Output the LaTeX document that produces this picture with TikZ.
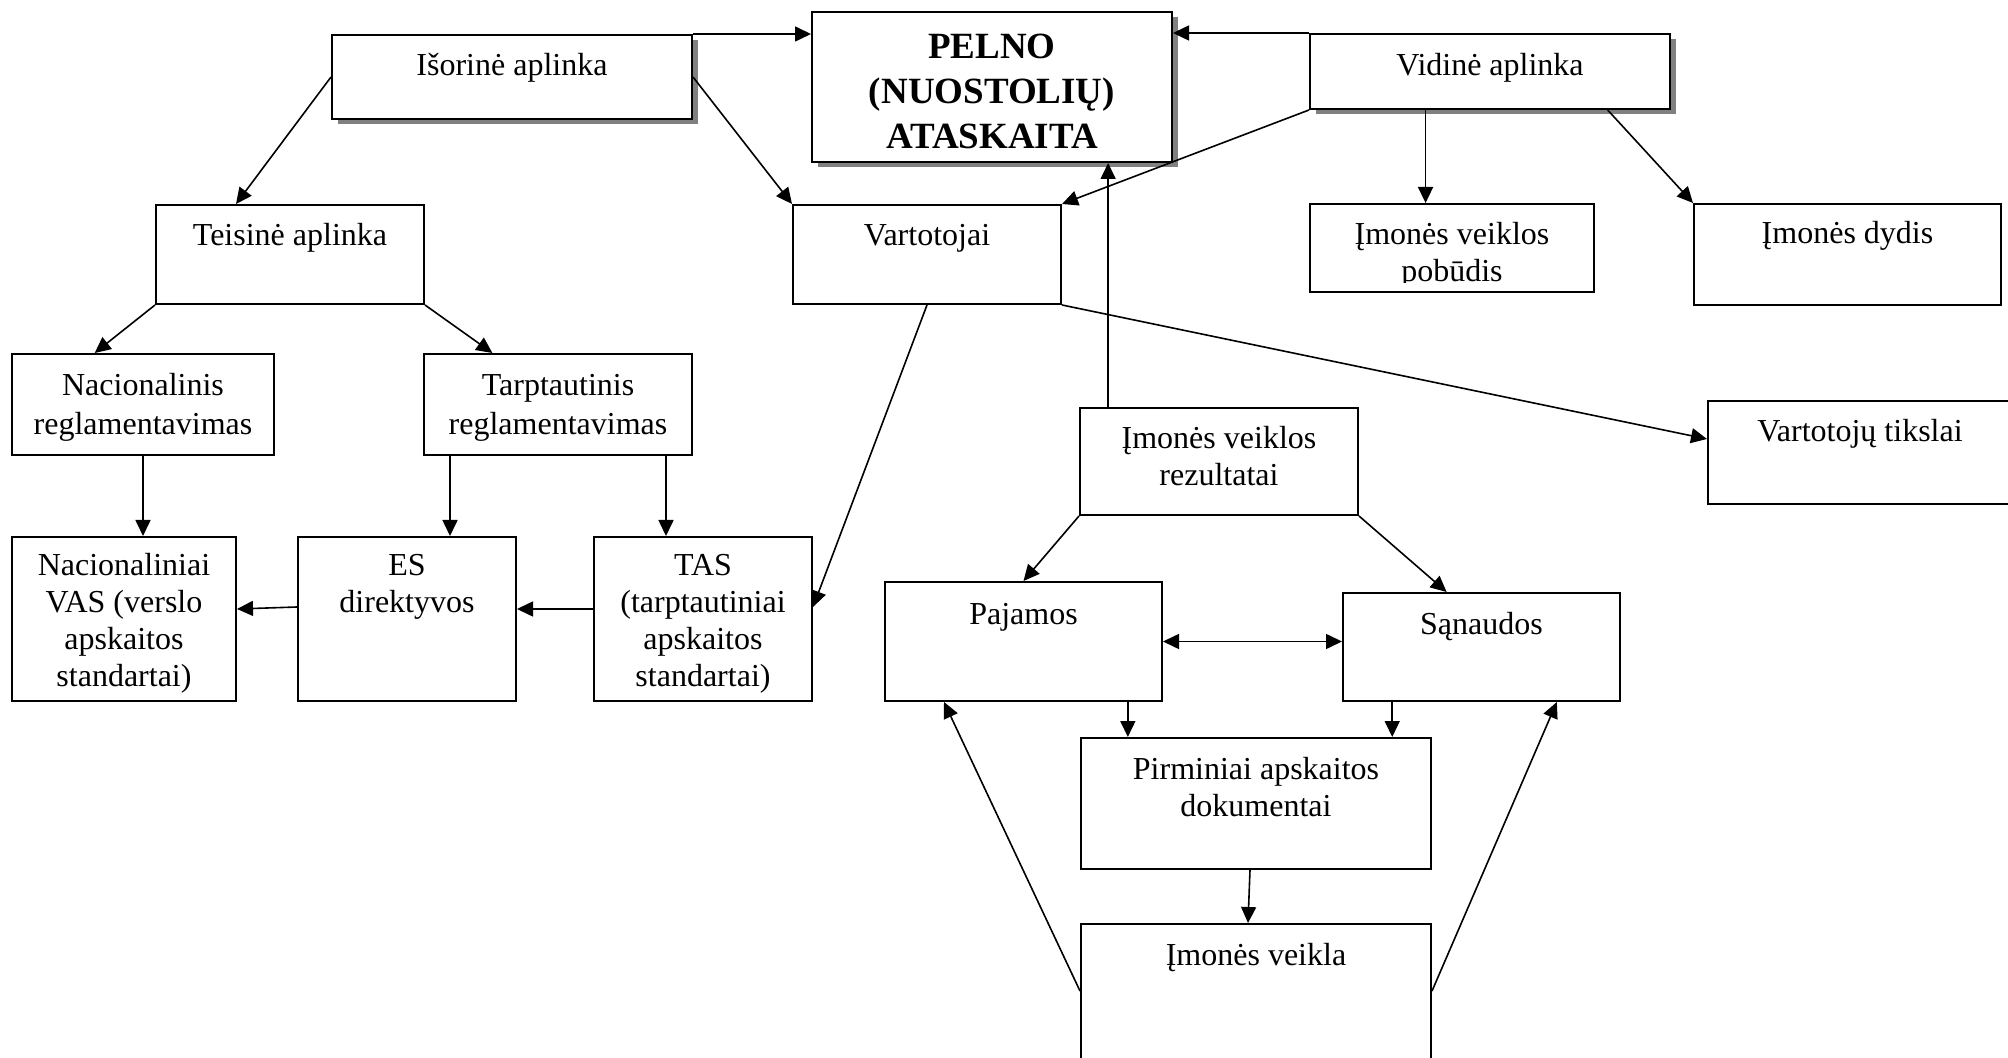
\documentclass[tikz,border=0pt]{standalone}
\usepackage{fontspec}
\setmainfont{Liberation Serif}
\usetikzlibrary{arrows.meta,calc,shadows}
\begin{document}
\begin{tikzpicture}[x=0.5pt,y=-0.5pt,
  >={Triangle[length=8pt,width=7.5pt]},
  box/.style={draw, line width=1pt, rectangle, inner sep=0pt, fill=white},
  shbox/.style={box, drop shadow={shadow xshift=3pt, shadow yshift=-2.5pt, fill=black!50, opacity=1}},
  txt/.style={anchor=north, inner sep=0pt, align=center, font=\fontsize{16}{18.5}\selectfont},
  conn/.style={line width=0.8pt, ->},
  dconn/.style={line width=0.8pt, <->},
]
\useasboundingbox (0,0) rectangle (2008,1058);

% boxes
\node[shbox, minimum width=180pt, minimum height=42pt] (isor) at (512,77) {};
\node[shbox, minimum width=180pt, minimum height=75pt] (pelno) at (992,87) {};
\node[shbox, minimum width=180pt, minimum height=37.5pt] (vid) at (1490,71.5) {};
\node[box, minimum width=134pt, minimum height=49.5pt] (teis) at (290,254.5) {};
\node[box, minimum width=134pt, minimum height=49.5pt] (vart) at (927,254.5) {};
\node[box, minimum width=142pt, minimum height=44pt] (pob) at (1452,248) {};
\node[box, minimum width=153.5pt, minimum height=50.5pt] (dyd) at (1847.5,254.5) {};
\node[box, minimum width=131pt, minimum height=50.5pt] (nreg) at (143,404.5) {};
\node[box, minimum width=134pt, minimum height=50.5pt] (treg) at (558,404.5) {};
\node[box, minimum width=112pt, minimum height=82pt] (nvas) at (124,619) {};
\node[box, minimum width=109pt, minimum height=82pt] (es) at (407,619) {};
\node[box, minimum width=109pt, minimum height=82pt] (tas) at (703,619) {};
\node[box, minimum width=139pt, minimum height=53.5pt] (rez) at (1219,461.5) {};
\node[box, minimum width=152pt, minimum height=51.5pt] (tik) at (1860,452.5) {};
\node[box, minimum width=138.5pt, minimum height=59.5pt] (paj) at (1023.5,641.5) {};
\node[box, minimum width=138.5pt, minimum height=54pt] (san) at (1481.5,647) {};
\node[box, minimum width=175pt, minimum height=65.5pt] (pirm) at (1256,803.5) {};
\node[box, minimum width=175pt, minimum height=73pt] (veik) at (1256,997) {};

% texts
\node[txt] (isor-t) at ([yshift=-7.8pt]isor.north) {\strut Išorinė aplinka};
\node[txt, font=\fontsize{18.5}{22.5}\selectfont\bfseries] (pelno-t) at ([yshift=-7.6pt]pelno.north) {\strut PELNO\\(NUOSTOLIŲ)\\ATASKAITA};
\node[txt] (vid-t) at ([yshift=-8pt]vid.north) {\strut Vidinė aplinka};
\node[txt] (teis-t) at ([yshift=-7.5pt]teis.north) {\strut Teisinė aplinka};
\node[txt] (vart-t) at ([yshift=-7.5pt]vart.north) {\strut Vartotojai};
\begin{scope}
  \clip (pob.north west) rectangle ([yshift=5.35pt]pob.south east);
  \node[txt] (pob-t) at ([yshift=-7.5pt]pob.north) {\strut Įmonės veiklos\\[0.3pt]pobūdis};
\end{scope}
\node[txt] (dyd-t) at ([yshift=-7.2pt]dyd.north) {\strut Įmonės dydis};
\node[txt] (nreg-t) at ([yshift=-8pt]nreg.north) {\strut Nacionalinis\\[1pt]reglamentavimas};
\node[txt] (treg-t) at ([yshift=-8pt]treg.north) {\strut Tarptautinis\\[1pt]reglamentavimas};
\node[txt] (nvas-t) at ([yshift=-6.8pt]nvas.north) {\strut Nacionaliniai\\VAS (verslo\\apskaitos\\standartai)};
\node[txt] (es-t) at ([yshift=-6.8pt]es.north) {\strut ES\\direktyvos};
\node[txt] (tas-t) at ([yshift=-6.8pt]tas.north) {\strut TAS\\(tarptautiniai\\apskaitos\\standartai)};
\node[txt] (rez-t) at ([yshift=-7.8pt]rez.north) {\strut Įmonės veiklos\\rezultatai};
\node[txt] (tik-t) at ([yshift=-7.5pt]tik.north) {\strut Vartotojų tikslai};
\node[txt] (paj-t) at ([yshift=-8.5pt]paj.north) {\strut Pajamos};
\node[txt] (san-t) at ([yshift=-8pt]san.north) {\strut Sąnaudos};
\node[txt] (pirm-t) at ([yshift=-8pt]pirm.north) {\strut Pirminiai apskaitos\\dokumentai};
\node[txt] (veik-t) at ([yshift=-8pt]veik.north) {\strut Įmonės veikla};

% helper coordinates
\coordinate (v1) at ($(vid.south west)!0.322!(vid.south east)$);
\coordinate (v2) at ($(vid.south west)!0.825!(vid.south east)$);
\coordinate (t1) at ($(treg.south west)!0.1!(treg.south east)$);
\coordinate (t2) at ($(treg.south west)!0.9!(treg.south east)$);
\coordinate (r1) at ($(rez.north west)!0.104!(rez.north east)$);
\coordinate (p1) at ($(paj.south west)!0.874!(paj.south east)$);
\coordinate (s1) at ($(san.south west)!0.18!(san.south east)$);

% connectors
\draw[conn] (isor.north east) -- (isor.north east -| pelno.west);
\draw[conn] (vid.north west) -- (vid.north west -| pelno.east);
\draw[conn] (isor.west) -- ($(teis.north west)!0.3!(teis.north east)$);
\draw[conn] (isor.east) -- (vart.north west);
\draw[conn] (vid.south west) -- (vart.north east);
\draw[conn] (v1) -- (v1 |- pob.north);
\draw[conn] (v2) -- (dyd.north west);
\draw[conn] (teis.south west) -- ($(nreg.north west)!0.317!(nreg.north east)$);
\draw[conn] (teis.south east) -- ($(treg.north west)!0.257!(treg.north east)$);
\draw[conn] (nreg.south) -- (nreg.south |- nvas.north);
\draw[conn] (t1) -- (t1 |- es.north);
\draw[conn] (t2) -- (t2 |- tas.north);
\draw[conn] ([yshift=5pt]tas.west) -- ([yshift=5pt]tas.west -| es.east);
\draw[conn] ([yshift=6pt]es.west) -- ([yshift=5pt]nvas.east);
\draw[conn] (vart.south) -- ([yshift=6pt]tas.east);
\draw[conn] (vart.south east) -- ([yshift=6.75pt]tik.west);
\draw[conn] (r1) -- (r1 |- pelno.south);
\draw[conn] (rez.south west) -- (paj.north);
\draw[conn] (rez.south east) -- ($(san.north west)!0.375!(san.north east)$);
\draw[dconn] (paj.east) -- (paj.east -| san.west);
\draw[conn] (p1) -- (p1 |- pirm.north);
\draw[conn] (s1) -- (s1 |- pirm.north);
\draw[conn] ([xshift=-3pt]pirm.south) -- ([xshift=-4pt]veik.north);
\draw[conn] ([yshift=-34pt]veik.north west) -- ($(paj.south west)!0.215!(paj.south east)$);
\draw[conn] ([yshift=-34pt]veik.north east) -- ($(san.south west)!0.77!(san.south east)$);
\end{tikzpicture}
\end{document}
